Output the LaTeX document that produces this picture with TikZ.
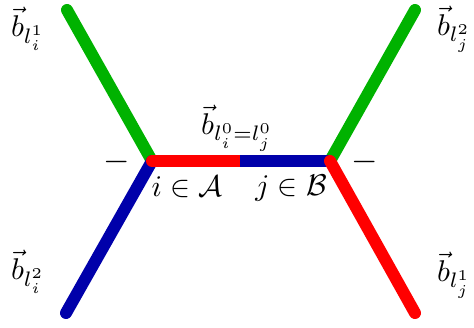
\documentclass[tikz,border=0pt]{standalone}
\usepackage{graphicx}
\definecolor{cgreen}{RGB}{0,178,0}
\definecolor{cblue}{RGB}{0,0,170}
\definecolor{cred}{RGB}{255,0,0}
\newcommand{\lblmath}[1]{\scalebox{3.0}{$#1$}}
\newcommand{\dashmath}{\scalebox{3.4}{$-$}}
\tikzset{
  edge/.style={line width=12pt,line cap=round},
  lbl/.style={inner sep=0pt}
}
\begin{document}
\begin{tikzpicture}[x=1pt,y=-1pt]
\useasboundingbox (0,0) rectangle (474,327);
\coordinate (A) at (152,161);
\coordinate (B) at (330,161);
\coordinate (M) at (240,161);
\coordinate (TL) at (67,10);
\coordinate (BL) at (66,313);
\coordinate (TR) at (415,10);
\coordinate (BR) at (415,313);
\draw[edge,cgreen] (TL) -- (A);
\draw[edge,cgreen] (TR) -- (B);
\draw[edge,cblue] (BL) -- (A);
\draw[edge,cred] (A) -- (M);
\draw[edge,cblue,line cap=butt] (M) -- (B);
\draw[edge,cred] (B) -- (BR);
\node[lbl] (l1) at (28,29) {\lblmath{\vec{b}_{l_i^1}}};
\node[lbl] (l2) at (454,29) {\lblmath{\vec{b}_{l_j^2}}};
\node[lbl] (l3) at (28,272) {\lblmath{\vec{b}_{l_i^2}}};
\node[lbl] (l4) at (454,275) {\lblmath{\vec{b}_{l_j^1}}};
\node[lbl] (l0) at (237,128) {\lblmath{\vec{b}_{l_i^0=l_j^0}}};
\node[lbl] (ia) at (187,187) {\lblmath{i\in\mathcal{A}}};
\node[lbl] (jb) at (291,188) {\lblmath{j\in\mathcal{B}}};
\node[lbl] (m1) at (116.5,162) {\dashmath};
\node[lbl] (m2) at (364.5,162) {\dashmath};
\end{tikzpicture}
\end{document}
